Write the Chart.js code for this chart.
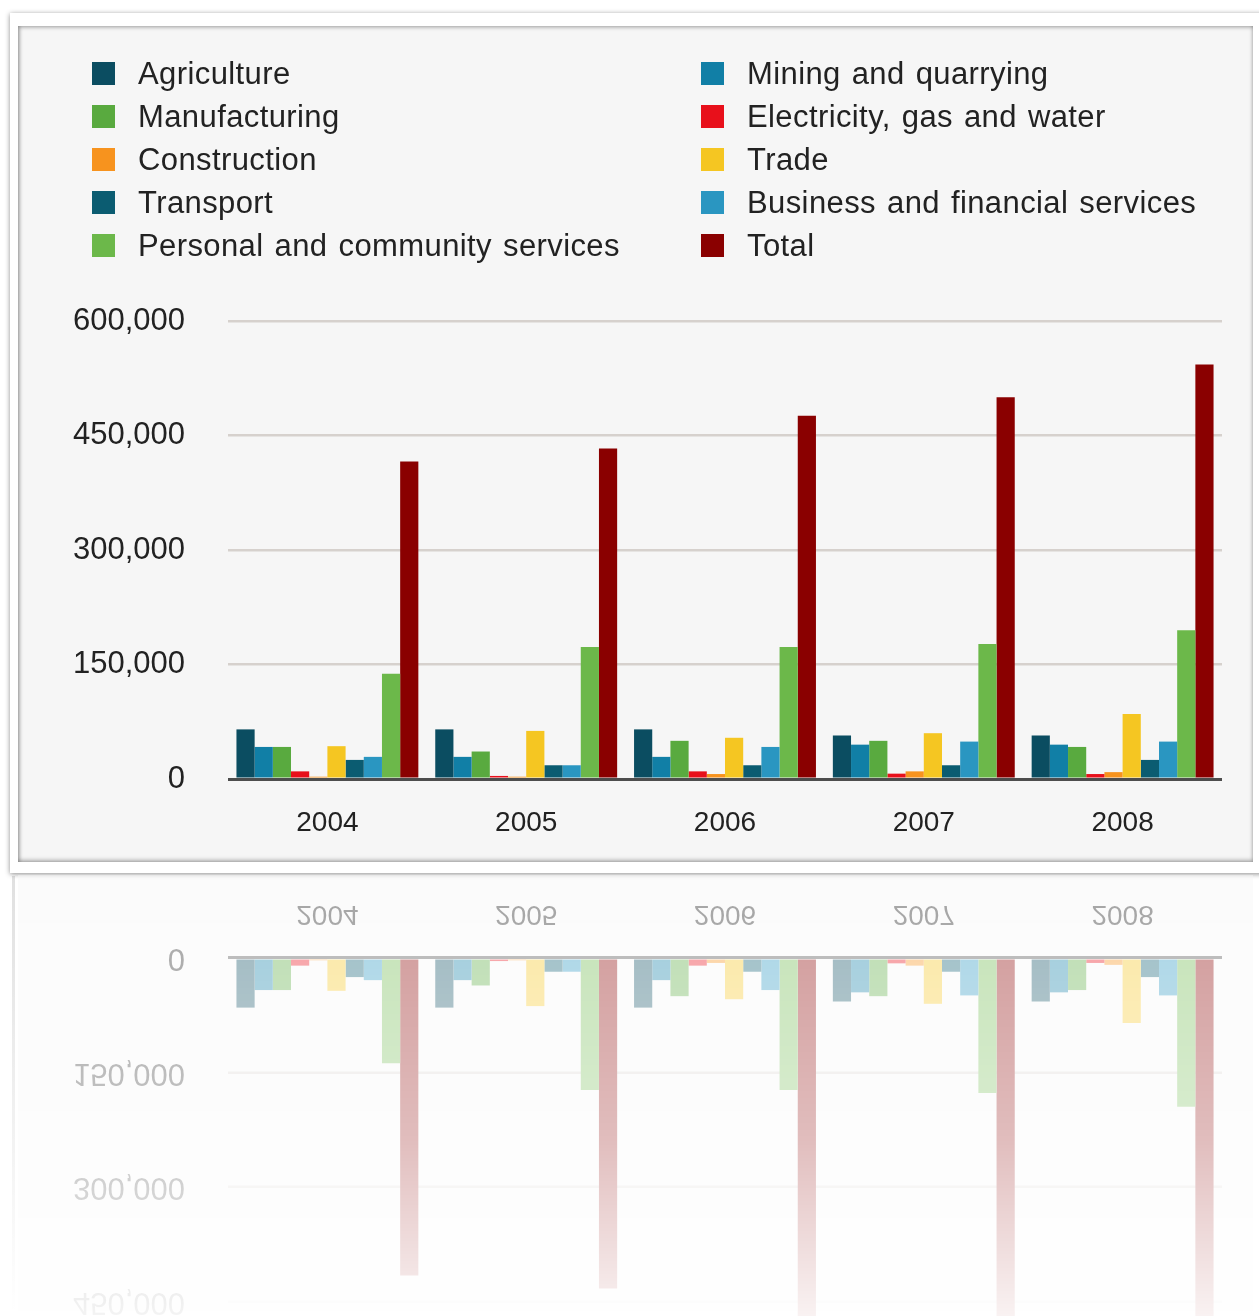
<!DOCTYPE html>
<html>
<head>
<meta charset="utf-8">
<script src="https://cdn.jsdelivr.net/npm/chart.js@4.4.1/dist/chart.umd.min.js"></script>
<style>
  html, body { margin: 0; padding: 0; background: #fff; }
  body { width: 1259px; height: 1316px; overflow: hidden; position: relative; font-family: "Liberation Sans", Arial, sans-serif; }
  #card {
    position: absolute; left: 10px; top: 13px; width: 1260px; height: 860px;
    background: #fff; box-shadow: 0 1px 5px rgba(0,0,0,0.45);
  }
  #panel {
    position: absolute; left: 8px; top: 13px; width: 1235px; height: 836px;
    background: #f6f6f6; box-shadow: inset 1px 1px 4px rgba(0,0,0,0.35), inset 0 -2px 4px rgba(0,0,0,0.25);
  }
  #chart { position: absolute; left: 0; top: 0; }
  #legend { position: absolute; left: 0; top: 0; width: 1235px; height: 260px; }
  .item { position: absolute; height: 40px; line-height: 40px; font-size: 31px; color: #222; white-space: nowrap;
    word-spacing: 2px; letter-spacing: 0.4px; }
  .item span.box { position: absolute; left: 0; top: 8px; width: 23px; height: 23px; }
  .item span.txt { position: absolute; left: 46px; top: 0; }
  #reflect { position: absolute; left: 18px; top: 875px; }
  #refEdge { position: absolute; left: 12px; top: 876px; width: 3px; height: 440px;
    background: linear-gradient(to bottom, rgba(0,0,0,0.12), rgba(0,0,0,0)); }
</style>
</head>
<body>
<div id="card">
  <div id="panel">
    <canvas id="chart" width="1235" height="836"></canvas>
    <div id="legend"></div>
  </div>
</div>
<div id="refEdge"></div>
<canvas id="reflect" width="1235" height="441"></canvas>
<script>
const years = ['2004', '2005', '2006', '2007', '2008'];
const seriesNames = ['Agriculture', 'Mining and quarrying', 'Manufacturing', 'Electricity, gas and water',
  'Construction', 'Trade', 'Transport', 'Business and financial services',
  'Personal and community services', 'Total'];
const seriesColors = ['#0b4d61', '#117fa6', '#59aa3f', '#e8101b', '#f7931e', '#f5c622',
  '#0b5c71', '#2a96c1', '#6cb84a', '#8a0000'];

const agriculture = [65000, 65000, 65000, 57000, 57000];
const mining = [42000, 29000, 29000, 45000, 45000];
const manufacturing = [42000, 36000, 50000, 50000, 42000];
const electricity = [10000, 4000, 10000, 7000, 6500];
const construction = [3000, 3000, 6500, 10000, 9000];
const trade = [43000, 63000, 54000, 60000, 85000];
const transport = [25000, 18000, 18000, 18000, 25000];
const business = [29000, 18000, 42000, 49000, 49000];
const personal = [138000, 173000, 173000, 177000, 195000];
const total = [416000, 433000, 476000, 500000, 543000];

const yTicks = [0, 150000, 300000, 450000, 600000];

const seriesValues = [agriculture, mining, manufacturing, electricity, construction,
  trade, transport, business, personal, total];

// html legend, two columns, filled row by row in dataset order
const legend = document.getElementById('legend');
seriesNames.forEach((name, i) => {
    const col = i % 2, row = Math.floor(i / 2);
    const el = document.createElement('div');
    el.className = 'item';
    el.style.left = (col === 0 ? 74 : 683) + 'px';
    el.style.top = (28 + row * 43) + 'px';
    el.innerHTML = '<span class="box" style="background:' + seriesColors[i] + '"></span>' +
        '<span class="txt">' + name + '</span>';
    legend.appendChild(el);
});

// copy the drawn chart upside down under the card, fading out
const mirrorPlugin = {
    id: 'mirror',
    afterRender(chart) {
        const src = chart.canvas;
        const dst = document.getElementById('reflect');
        const ctx = dst.getContext('2d');
        ctx.setTransform(1, 0, 0, 1, 0, 0);
        ctx.clearRect(0, 0, dst.width, dst.height);
        ctx.fillStyle = '#f6f6f6';
        ctx.fillRect(0, 0, dst.width, dst.height);
        ctx.setTransform(1, 0, 0, -1, 0, 836);
        ctx.drawImage(src, 0, 0, 1235, 836);
        ctx.setTransform(1, 0, 0, 1, 0, 0);
        ctx.globalCompositeOperation = 'destination-in';
        const g = ctx.createLinearGradient(0, 0, 0, dst.height);
        g.addColorStop(0, 'rgba(0,0,0,0.42)');
        g.addColorStop(0.6, 'rgba(0,0,0,0.26)');
        g.addColorStop(1, 'rgba(0,0,0,0.05)');
        ctx.fillStyle = g;
        ctx.fillRect(0, 0, dst.width, dst.height);
        ctx.globalCompositeOperation = 'source-over';
    }
};

new Chart(document.getElementById('chart'), {
    type: 'bar',
    data: {
        labels: years,
        datasets: seriesNames.map((name, i) => ({
            label: name,
            data: seriesValues[i],
            backgroundColor: seriesColors[i],
            borderWidth: 0,
            categoryPercentage: 0.915,
            barPercentage: 1.0
        }))
    },
    options: {
        responsive: false,
        animation: false,
        devicePixelRatio: 1,
        layout: { padding: { top: 295, left: 0, right: 31, bottom: 0 } },
        plugins: {
            legend: { display: false },
            tooltip: { enabled: false }
        },
        scales: {
            x: {
                grid: { display: false },
                border: { display: false },
                ticks: {
                    color: '#222',
                    font: { family: 'Liberation Sans', size: 28 },
                    padding: 19
                },
                afterFit(scale) { scale.height = 83; }
            },
            y: {
                min: 0,
                max: 600000,
                border: { display: false },
                grid: {
                    drawTicks: false,
                    color: ctx => ctx.tick && ctx.tick.value === 0 ? '#4d4d4d' : '#d6d1cd',
                    lineWidth: ctx => ctx.tick && ctx.tick.value === 0 ? 3 : 2.5
                },
                afterBuildTicks(scale) { scale.ticks = yTicks.map(v => ({ value: v })); },
                ticks: {
                    color: '#222',
                    font: { family: 'Liberation Sans', size: 31 },
                    padding: 43,
                    callback: v => v.toLocaleString('en-US')
                },
                afterFit(scale) { scale.width = 210; }
            }
        }
    },
    plugins: [mirrorPlugin]
});
</script>
</body>
</html>
